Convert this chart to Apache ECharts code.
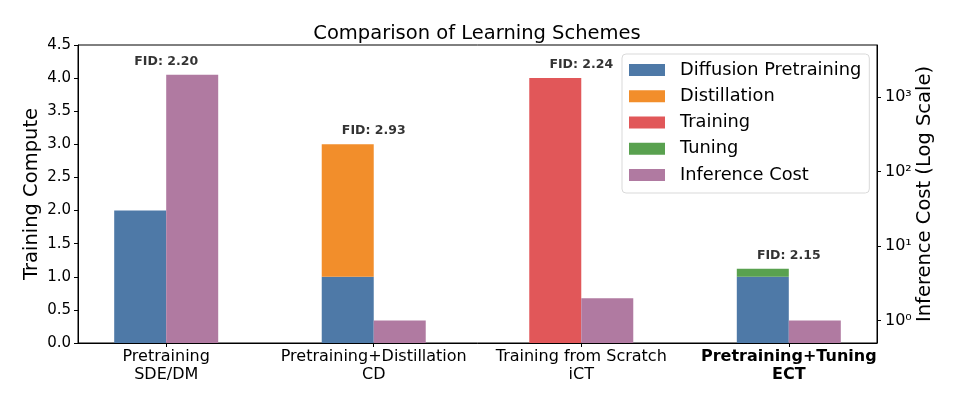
<!DOCTYPE html>
<html>
<head>
<meta charset="utf-8">
<title>Comparison of Learning Schemes</title>
<script src="https://cdn.jsdelivr.net/npm/echarts@6/dist/echarts.min.js"></script>
<style>
  html, body { margin: 0; padding: 0; background: #fff; }
  #chart { width: 954px; height: 398px; }
</style>
</head>
<body>
<div id="chart"></div>
<script>
// schemes, one group of bars each (x = 0..3)
const schemes = ['Pretraining', 'Pretraining+Distillation', 'Training from Scratch', 'Pretraining+Tuning']
const methods = ['SDE/DM', 'CD', 'iCT', 'ECT']

// training compute (stacked, left axis)
const pretraining = [2, 1, 0, 1]
const distillation = [0, 2, 0, 0]
const training = [0, 0, 4, 0]
const tuning = [0, 0, 0, 0.12]

// inference cost (right axis, log)
const inferenceCost = [2000, 1, 2, 1]

// FID annotations, placed above the tallest bar of each group (left axis units)
const fid = [2.20, 2.93, 2.24, 2.15]
const fidAnchor = [4.05, 3.0, 4.0, 1.12]

const yTicks = [0, 0.5, 1, 1.5, 2, 2.5, 3, 3.5, 4, 4.5]
const sup = ['⁰', '¹', '²', '³', '⁴']

const font = 'DejaVu Sans'
const colors = {
  pre: '#4e79a7',
  distill: '#f28e2b',
  train: '#e15759',
  tune: '#59a14f',
  infer: '#b07aa1'
}

// value first so that stacking runs on the y dimension (x is a value axis here)
const vx = arr => arr.map((v, i) => [v, i])

const chart = echarts.init(document.getElementById('chart'))

function barSeries(name, stack, color, values, yAxisIndex) {
  return {
    name: name,
    type: 'bar',
    stack: stack,
    yAxisIndex: yAxisIndex || 0,
    barWidth: 52,
    barGap: '0%',
    encode: { x: 1, y: 0 },
    itemStyle: { color: color },
    data: vx(values)
  }
}

const option = {
  animation: false,
  textStyle: { fontFamily: font, color: '#000' },
  title: {
    text: 'Comparison of Learning Schemes',
    left: 'center',
    top: 24,
    padding: 0,
    textStyle: { fontFamily: font, fontSize: 19.5, fontWeight: 'normal', color: '#000' }
  },
  legend: {
    orient: 'vertical',
    left: 622,
    top: 54,
    padding: [6, 8, 8, 7],
    itemWidth: 36,
    itemHeight: 12,
    itemGap: 6,
    icon: 'rect',
    borderColor: '#d9d9d9',
    borderWidth: 1,
    borderRadius: 4,
    backgroundColor: 'rgba(255,255,255,0.8)',
    selectedMode: false,
    textStyle: { fontFamily: font, fontSize: 17.8, color: '#000', lineHeight: 20.2, padding: [0, 0, 0, 10] },
    data: ['Diffusion Pretraining', 'Distillation', 'Training', 'Tuning', 'Inference Cost']
  },
  grid: {
    left: 78,
    right: 77,
    top: 45,
    bottom: 55,
    show: true,
    borderColor: '#000',
    borderWidth: 1
  },
  xAxis: {
    type: 'value',
    min: -0.425,
    max: 3.425,
    splitLine: { show: false },
    axisLine: { show: true, onZero: false, lineStyle: { color: '#000' } },
    axisTick: {
      show: true,
      customValues: [0, 1, 2, 3],
      inside: false,
      length: 4,
      lineStyle: { color: '#000' }
    },
    axisLabel: {
      customValues: [0, 1, 2, 3],
      margin: 5,
      fontSize: 16,
      lineHeight: 18,
      color: '#000',
      formatter: v => {
        const i = Math.round(v)
        const st = i === 3 ? 'b' : 'n'
        return '{' + st + '|' + schemes[i] + '}\n{' + st + '|' + methods[i] + '}'
      },
      rich: {
        n: { fontFamily: font, fontSize: 16, lineHeight: 18, color: '#000' },
        b: { fontFamily: font, fontSize: 16, lineHeight: 18, color: '#000', fontWeight: 'bold' }
      }
    }
  },
  yAxis: [
    {
      type: 'value',
      min: yTicks[0],
      max: yTicks[yTicks.length - 1],
      interval: 0.5,
      name: 'Training Compute',
      nameLocation: 'middle',
      nameRotate: 90,
      nameGap: 36,
      nameMoveOverlap: false,
      nameTextStyle: { fontFamily: font, fontSize: 19.5, color: '#000' },
      splitLine: { show: false },
      axisLine: { show: true, onZero: false, lineStyle: { color: '#000' } },
      axisTick: { show: true, length: 4, lineStyle: { color: '#000' } },
      axisLabel: {
        fontSize: 15,
        margin: 7,
        color: '#000',
        formatter: v => v.toFixed(1)
      }
    },
    {
      type: 'log',
      logBase: 10,
      min: 0.5,
      max: 5000,
      startValue: 0.5,
      position: 'right',
      name: 'Inference Cost (Log Scale)',
      nameLocation: 'middle',
      nameRotate: 90,
      nameGap: 38,
      nameMoveOverlap: false,
      nameTextStyle: { fontFamily: font, fontSize: 19.5, color: '#000' },
      splitLine: { show: false },
      axisLine: { show: true, onZero: false, lineStyle: { color: '#000' } },
      axisTick: { show: true, length: 4, lineStyle: { color: '#000' } },
      axisLabel: {
        fontSize: 16,
        margin: 8,
        color: '#000',
        showMinLabel: false,
        showMaxLabel: false,
        formatter: v => '10' + sup[Math.round(Math.log10(v))]
      }
    }
  ],
  series: [
    barSeries('Diffusion Pretraining', 'train', colors.pre, pretraining),
    barSeries('Distillation', 'train', colors.distill, distillation),
    barSeries('Training', 'train', colors.train, training),
    barSeries('Tuning', 'train', colors.tune, tuning),
    barSeries('Inference Cost', 'infer', colors.infer, inferenceCost, 1),
    {
      name: 'fid',
      type: 'scatter',
      symbolSize: 0,
      silent: true,
      label: {
        show: true,
        position: 'top',
        distance: 7,
        fontFamily: font,
        fontSize: 12.5,
        fontWeight: 'bold',
        color: '#000',
        formatter: p => 'FID: ' + fid[p.dataIndex].toFixed(2)
      },
      data: fidAnchor.map((v, i) => [i, v])
    }
  ]
}

chart.setOption(option)
</script>
</body>
</html>
